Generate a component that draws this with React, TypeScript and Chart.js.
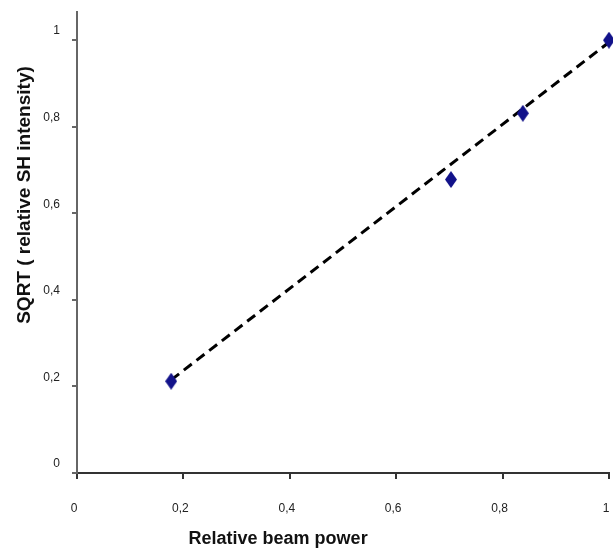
import React, { useEffect, useRef } from "react";
import { Chart, registerables } from "chart.js";

Chart.register(...registerables);

const pointX = [0.177, 0.703, 0.838, 1.0];
const pointY = [0.212, 0.678, 0.831, 1.0];
const trendX = [0.177, 1.0];
const trendY = [0.215, 0.995];
const xTicks = [0, 0.2, 0.4, 0.6, 0.8, 1];
const yTicks = [0, 0.2, 0.4, 0.6, 0.8, 1];
const xTitle = "Relative beam power";
const yTitle = "SQRT ( relative SH intensity)";

const fmt = (v: number) => String(Math.round(v * 10) / 10).replace(".", ",");

function makeDiamond(color: string, w: number, h: number) {
  const c = document.createElement("canvas");
  c.width = w;
  c.height = h;
  const g = c.getContext("2d")!;
  g.fillStyle = color;
  g.beginPath();
  g.moveTo(w / 2, 0);
  g.lineTo(w, h / 2);
  g.lineTo(w / 2, h);
  g.lineTo(0, h / 2);
  g.closePath();
  g.fill();
  return c;
}

const titlePlugin = {
  id: "axisTitles",
  afterDraw(chart: any) {
    const { ctx, chartArea } = chart;
    const w = chartArea.right - chartArea.left;
    const h = chartArea.bottom - chartArea.top;
    ctx.save();
    ctx.fillStyle = "#111";
    ctx.textAlign = "center";
    ctx.textBaseline = "middle";
    ctx.font = "bold 18px 'Liberation Sans', Arial, sans-serif";
    ctx.fillText(xTitle, chartArea.left + 0.378 * w, chart.height - 10);
    ctx.translate(25, chartArea.top + 0.397 * h);
    ctx.rotate(-Math.PI / 2);
    ctx.font = "bold 19px 'Liberation Sans', Arial, sans-serif";
    ctx.fillText(yTitle, 0, 0);
    ctx.restore();
  },
};

export default function App() {
  const ref = useRef<HTMLCanvasElement>(null);
  useEffect(() => {
    document.body.style.margin = "0";
    const canvas = ref.current!;
    const diamond = makeDiamond("#12128a", 12, 17);
    const chart = new Chart(canvas, {
      type: "scatter",
      data: {
        datasets: [
          {
            type: "scatter",
            data: pointX.map((x, i) => ({ x, y: pointY[i] })),
            pointStyle: diamond,
            pointRadius: 7,
            backgroundColor: "#12128a",
            borderColor: "#12128a",
            borderWidth: 1,
            clip: false,
            order: 1,
          } as any,
          {
            type: "line",
            data: trendX.map((x, i) => ({ x, y: trendY[i] })),
            borderColor: "#000",
            borderWidth: 3,
            borderDash: [10, 6],
            pointRadius: 0,
            fill: false,
            order: 2,
          } as any,
        ],
      },
      options: {
        animation: false,
        responsive: false,
        layout: { autoPadding: false, padding: { top: 12, right: 4, left: 0, bottom: 0 } },
        plugins: { legend: { display: false }, tooltip: { enabled: false } },
        scales: {
          x: {
            type: "linear",
            min: 0,
            max: 1,
            afterFit: (s: any) => {
              s.height = 76;
              s.paddingLeft = 0;
              s.paddingRight = 0;
            },
            afterBuildTicks: (s: any) => {
              s.ticks = xTicks.map((v) => ({ value: v }));
            },
            ticks: {
              callback: (v: any) => fmt(Number(v)),
              font: { family: "'Liberation Sans', Arial, sans-serif", size: 12 },
              color: "#222",
              padding: 22,
              labelOffset: -3,
              maxRotation: 0,
            },
            grid: {
              drawOnChartArea: false,
              drawTicks: true,
              tickLength: 6,
              color: "#333",
              lineWidth: 2,
            },
            border: { display: true, color: "#333", width: 2 },
          },
          y: {
            type: "linear",
            min: 0,
            max: 1.065,
            afterFit: (s: any) => {
              s.width = 77;
              s.paddingTop = 0;
              s.paddingBottom = 0;
            },
            afterBuildTicks: (s: any) => {
              s.ticks = yTicks.map((v) => ({ value: v }));
            },
            ticks: {
              callback: (v: any) => fmt(Number(v)),
              font: { family: "'Liberation Sans', Arial, sans-serif", size: 12 },
              color: "#222",
              padding: 12,
              labelOffset: -9,
            },
            grid: {
              drawOnChartArea: false,
              drawTicks: true,
              tickLength: 5,
              color: "#666",
              lineWidth: 2,
            },
            border: { display: true, color: "#666", width: 2 },
          },
        },
      },
      plugins: [titlePlugin],
    });
    return () => chart.destroy();
  }, []);
  return (
    <div style={{ width: 613, height: 549 }}>
      <canvas ref={ref} width={613} height={549} />
    </div>
  );
}
